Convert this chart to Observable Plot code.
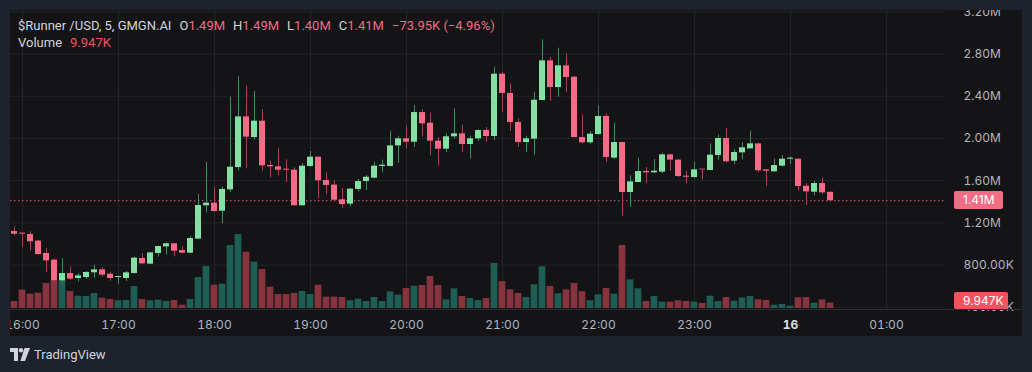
<!DOCTYPE html>
<html>
<head>
<meta charset="utf-8">
<script src="https://cdn.jsdelivr.net/npm/d3@7"></script>
<script src="https://cdn.jsdelivr.net/npm/@observablehq/plot@0.6"></script>
<style>
html,body{margin:0;padding:0;background:#1e222d;width:1032px;height:372px;overflow:hidden;font-family:Inter,Roboto,"Liberation Sans",sans-serif}
#panel{position:absolute;left:10px;top:10px;width:1012px;height:326px;background:#141417;overflow:hidden}
#panel svg{position:absolute;left:0;top:0}
#sep{position:absolute;left:0;top:299px;width:1012px;height:1px;background:#2a2d35}
#hdr{position:absolute;left:8px;top:7px;font-family:Roboto,"Liberation Sans",sans-serif;font-size:13px;line-height:17px;color:#d1d4dc;white-space:nowrap}
#hdr .v{color:#f26b83}
#hdr .vol{color:#f5525f}
#hdr .gap{margin-left:8px}
.box{position:absolute;color:#fff;font-size:12px;line-height:18px;padding-left:9px;box-sizing:border-box;border-radius:2px}
#brand{position:absolute;left:10px;top:346px;height:16px;display:flex;align-items:center;color:#d1d4dc;font-family:Roboto,sans-serif;font-size:13px}
</style>
</head>
<body>
<div id="panel">
  <div id="grid"></div>
  <div id="vol"></div>
  <div id="candles"></div>
  <div id="sep"></div>
  <div id="hdr">
    <div>$Runner /USD, 5, GMGN.AI<span class="gap">O</span><span class="v">1.49M</span><span class="gap">H</span><span class="v">1.49M</span><span class="gap">L</span><span class="v">1.40M</span><span class="gap">C</span><span class="v">1.41M</span><span class="gap v">−73.95K (−4.96%)</span></div>
    <div>Volume<span class="gap vol">9.947K</span></div>
  </div>
</div>
<div id="brand">
  <svg width="20" height="13" viewBox="0 0 20 13"><path d="M0 0h8v13h-4v-9h-4z" fill="#d1d4dc"/><circle cx="11" cy="2.2" r="2.2" fill="#d1d4dc"/><path d="M14.5 0h5.5l-5 13h-4.6z" fill="#d1d4dc"/></svg>
  <span style="margin-left:4px">TradingView</span>
</div>
<script>
// ---- data (5-minute candles from 15:55 to 00:25) ----
const startTime = Date.UTC(2025, 0, 15, 15, 55);
const stepMinutes = 5;
const opens = [1.118,1.103,1.090,1.027,0.910,0.847,0.651,0.720,0.673,0.682,
0.727,0.755,0.714,0.682,0.673,0.720,0.863,0.809,0.910,0.973,
1.002,0.938,0.913,1.046,1.362,1.387,1.311,1.513,1.725,2.205,
2.009,2.164,1.744,1.731,1.709,1.700,1.362,1.735,1.823,1.602,
1.558,1.419,1.378,1.517,1.592,1.624,1.735,1.735,1.930,1.997,
1.965,2.246,2.145,1.975,1.899,2.016,2.044,1.943,1.997,2.076,
2.019,2.610,2.427,2.152,1.962,1.994,2.360,2.736,2.483,2.689,
2.581,2.009,1.959,2.038,2.209,1.814,1.962,1.488,1.583,1.687,
1.675,1.681,1.845,1.795,1.643,1.630,1.709,1.697,1.839,2.000,
1.785,1.864,1.902,1.949,1.703,1.684,1.738,1.804,1.804,1.548,
1.491,1.573,1.49];
const highs = [1.163,1.103,1.115,1.033,0.957,0.856,0.863,0.780,0.720,0.739,
0.799,0.777,0.733,0.692,0.739,0.875,0.910,0.919,0.979,1.008,
1.002,0.976,1.074,1.472,1.776,1.539,1.539,2.392,2.588,2.496,
2.449,2.275,1.785,1.908,1.798,1.722,1.763,1.877,1.823,1.678,
1.599,1.526,1.523,1.611,1.649,1.776,1.795,2.070,2.022,2.117,
2.313,2.275,2.240,2.009,2.044,2.281,2.126,2.022,2.082,2.104,
2.676,2.629,2.518,2.186,2.022,2.439,2.935,2.768,2.856,2.803,
2.588,2.224,2.066,2.310,2.234,2.145,1.962,1.646,1.814,1.725,
1.801,1.861,1.848,1.804,1.687,1.776,1.709,1.949,2.032,2.098,
1.893,1.959,2.070,1.956,1.703,1.804,1.839,1.826,1.804,1.573,
1.596,1.624,1.49];
const lows = [1.077,0.964,0.935,0.894,0.727,0.641,0.619,0.657,0.641,0.667,
0.676,0.686,0.648,0.619,0.645,0.717,0.806,0.803,0.875,0.897,
0.878,0.910,0.910,1.046,1.295,1.302,1.191,1.488,1.694,1.712,
1.987,1.690,1.627,1.646,1.583,1.362,1.362,1.728,1.428,1.469,
1.412,1.336,1.352,1.494,1.507,1.618,1.675,1.731,1.763,1.902,
1.915,2.016,1.836,1.738,1.867,1.997,1.867,1.804,1.972,1.962,
1.981,2.246,2.066,1.915,1.867,1.842,2.360,2.351,2.392,2.436,
2.009,1.949,1.946,2.032,1.773,1.804,1.261,1.349,1.583,1.570,
1.665,1.668,1.690,1.630,1.570,1.624,1.605,1.694,1.795,1.769,
1.750,1.798,1.899,1.675,1.545,1.681,1.731,1.754,1.501,1.365,
1.457,1.469,1.40];
const closes = [1.093,1.093,1.021,0.900,0.840,0.651,0.720,0.667,0.698,0.730,
0.755,0.705,0.673,0.692,0.727,0.866,0.812,0.916,0.976,1.002,
0.932,0.913,1.052,1.365,1.387,1.308,1.517,1.728,2.205,2.013,
2.164,1.741,1.731,1.700,1.700,1.362,1.738,1.823,1.599,1.555,
1.415,1.374,1.520,1.592,1.633,1.738,1.747,1.930,1.997,1.965,
2.246,2.139,1.975,1.899,2.016,2.044,1.943,1.997,2.076,2.019,
2.610,2.427,2.152,1.962,1.997,2.363,2.736,2.483,2.689,2.578,
2.009,1.959,2.041,2.209,1.820,1.962,1.488,1.589,1.687,1.675,
1.690,1.845,1.795,1.640,1.633,1.703,1.703,1.842,2.000,1.779,
1.867,1.912,1.949,1.694,1.690,1.744,1.804,1.814,1.545,1.494,
1.573,1.485,1.41];
// volume in thousands
const volumes = [13.0,34.1,26.7,28.5,46.5,51.5,52.7,31.6,22.9,22.3,
27.9,19.2,16.7,14.3,14.9,40.9,16.7,14.3,15.5,13.0,
14.9,6.2,16.7,57.7,78.1,43.4,45.3,117.2,137.6,104.8,
86.2,72.5,39.7,26.0,26.0,27.9,31.6,26.0,43.4,21.1,
21.1,20.5,14.3,17.4,13.0,20.5,13.0,31.0,24.8,37.2,
41.5,42.8,59.5,42.8,16.1,36.6,22.3,18.6,14.9,18.6,
83.7,50.2,34.7,27.9,20.5,44.0,77.5,40.9,27.3,34.7,
46.5,31.0,14.3,25.4,37.2,26.7,117.2,53.3,36.6,13.0,
22.3,11.8,11.8,14.3,13.0,11.8,9.3,22.9,13.0,20.5,
13.6,19.8,22.3,16.1,14.9,6.2,7.4,4.3,19.8,20.5,
9.9,16.1,9.947];
const priceTicks = [0.4,0.8,1.2,1.6,2.0,2.4,2.8,3.2];
const priceTickLabels = ["400.00K","800.00K","1.20M","1.60M","2.00M","2.40M","2.80M","3.20M"];
const hourTicks = [16,17,18,19,20,21,22,23,24,25].map(h => new Date(Date.UTC(2025,0,15,h)));
const hourTickLabels = ["16:00","17:00","18:00","19:00","20:00","21:00","22:00","23:00","16","01:00"];
const lastClose = 1.41, lastCloseLabel = "1.41M";
const lastVolumeLabel = "9.947K";

// ---- table ----
const MIN = 60000;
const candles = opens.map((o, i) => {
  const t = startTime + i * stepMinutes * MIN;
  return {t: new Date(t), open: o, high: highs[i], low: lows[i], close: closes[i], volume: volumes[i], up: closes[i] >= o};
});

// ---- layout ----
const W = 1012, H = 326, MR = 77;
const UP = "#86dfa3", DOWN = "#f36b84", UPW = "#3f8c5a", DOWNW = "#a8414f";
const VUP = "#1f5e54", VDOWN = "#88343f";
const xDomain = [new Date(Date.UTC(2025,0,15,15,52,30)), new Date(Date.UTC(2025,0,16,1,36,52,500))];
const xScale = {type: "utc", domain: xDomain, range: [0, W - MR]};
const yScale = {type: "linear", domain: [0.3697, 3.2133], range: [300, 0]};
const baseStyle = {background: "transparent", overflow: "hidden", fontFamily: "Inter, Roboto, sans-serif"};
const isMidnight = d => d.getUTCHours() === 0;
const hourLabel = d => hourTickLabels[hourTicks.findIndex(h => +h === +d)];

const gridPlot = Plot.plot({
  width: W, height: H, marginLeft: 0, marginRight: MR, marginTop: 0, marginBottom: 26,
  x: xScale, y: yScale, style: baseStyle,
  marks: [
    Plot.gridX(hourTicks, {stroke: "#232428", strokeOpacity: 1}),
    Plot.gridY(priceTicks, {stroke: "#232428", strokeOpacity: 1}),
    Plot.axisY({ticks: priceTicks, tickFormat: d => priceTickLabels[priceTicks.indexOf(d)], anchor: "right", tickSize: 0, tickPadding: 18, color: "#b2b5be", fontSize: 12}),
    Plot.axisX({ticks: hourTicks.filter(d => !isMidnight(d)), tickFormat: hourLabel, anchor: "bottom", tickSize: 0, tickPadding: 10, color: "#b2b5be", fontSize: 12}),
    Plot.axisX({ticks: hourTicks.filter(isMidnight), tickFormat: hourLabel, anchor: "bottom", tickSize: 0, tickPadding: 10, color: "#dfe1e6", fontSize: 12, fontWeight: "bold"})
  ]
});
document.getElementById("grid").appendChild(gridPlot);

const half = (m) => m * MIN;
const volPlot = Plot.plot({
  width: W, height: H, marginLeft: 0, marginRight: MR, marginTop: 0, marginBottom: 26,
  x: {...xScale, axis: null}, y: {type: "linear", domain: [0, 500], range: [298, 29.2], axis: null}, style: baseStyle,
  marks: [
    Plot.rect(candles, {x1: d => new Date(+d.t - half(2.1)), x2: d => new Date(+d.t + half(2.1)), y1: 0, y2: "volume", fill: d => d.up ? VUP : VDOWN})
  ]
});
document.getElementById("vol").appendChild(volPlot);

const candlePlot = Plot.plot({
  width: W, height: H, marginLeft: 0, marginRight: MR, marginTop: 0, marginBottom: 26,
  x: {...xScale, axis: null}, y: {...yScale, axis: null}, style: baseStyle,
  marks: [
    Plot.ruleY([lastClose], {stroke: "#e8566e", strokeDasharray: "1.5,2.5", strokeWidth: 1}),
    Plot.ruleX(candles, {x: "t", y1: "low", y2: "high", stroke: d => d.up ? UPW : DOWNW, strokeWidth: 1}),
    Plot.rect(candles, {x1: d => new Date(+d.t - half(1.875)), x2: d => new Date(+d.t + half(1.875)), y1: "open", y2: "close", fill: d => d.up ? UP : DOWN})
  ]
});
document.getElementById("candles").appendChild(candlePlot);

// value labels on the price axis
const panel = document.getElementById("panel");
const py = candlePlot.scale("y").apply(lastClose);
const b1 = document.createElement("div");
b1.className = "box"; b1.textContent = lastCloseLabel;
Object.assign(b1.style, {left: "944px", top: (py - 9) + "px", width: "49px", height: "18px", background: "#f26c84"});
panel.appendChild(b1);
const b2 = document.createElement("div");
b2.className = "box"; b2.textContent = lastVolumeLabel;
Object.assign(b2.style, {left: "944px", top: "282px", width: "54px", height: "17px", lineHeight: "17px", background: "#f5525f"});
panel.appendChild(b2);
</script>
</body>
</html>
